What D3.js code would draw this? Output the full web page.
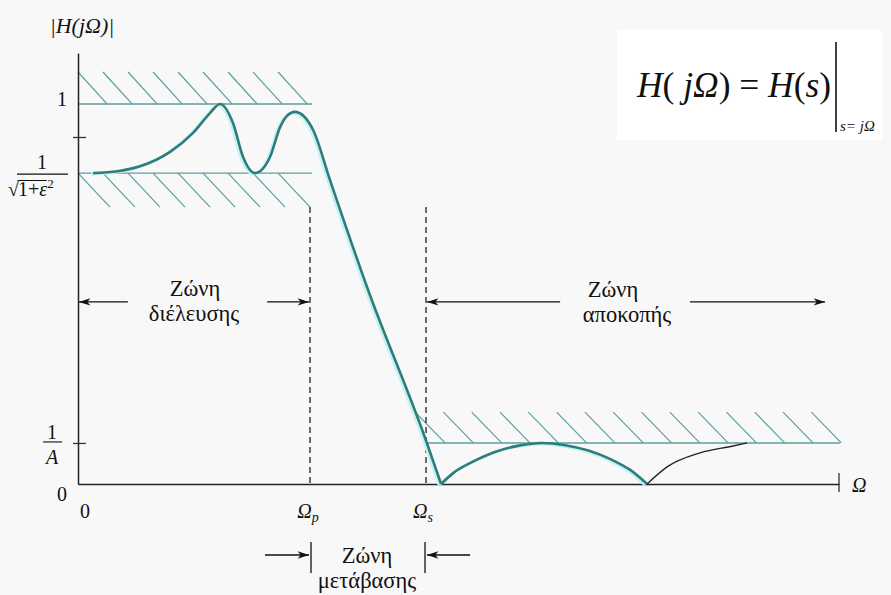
<!DOCTYPE html>
<html>
<head>
<meta charset="utf-8">
<title>Lowpass specs</title>
<script src="https://cdn.jsdelivr.net/npm/d3@7"></script>
<style>
body { margin:0; background:#f8f8f8; }
svg text { fill:#111; }
.it { font-style: italic; }
</style>
</head>
<body>
<div id="chart"></div>
<script>
// frequency axis, normalised so that Omega_p = 1
var omegaP = 1.0, omegaS = 1.5, omegaMax = 3.28;
// magnitude levels: 1, 1/sqrt(1+eps^2), 1/A and the unlabelled tick
var levelOne = 1.0, levelPass = 0.818, levelStop = 0.108, extraTick = 0.913;

// response: passband ripple + transition down to the first zero
var curveOmega = [0.065, 0.17, 0.267, 0.397, 0.496, 0.569, 0.612, 0.668, 0.711, 0.763, 0.828, 0.871, 0.9, 0.935, 1.013, 1.086, 1.25, 1.496, 1.565];
var curveMag   = [0.818, 0.823, 0.836, 0.874, 0.924, 0.976, 1.0, 0.95, 0.861, 0.818, 0.861, 0.939, 0.968, 0.979, 0.932, 0.80, 0.511, 0.121, 0.0];
// first stopband lobe (teal)
var lobeOmega = [1.565, 1.62, 1.70, 1.80, 1.90, 2.00, 2.10, 2.20, 2.30, 2.38, 2.453];
var lobeMag   = [0.0, 0.03, 0.058, 0.085, 0.101, 0.108, 0.102, 0.088, 0.064, 0.037, 0.0];
// second lobe (thin black), runs into the 1/A line
var tailOmega = [2.453, 2.539, 2.681, 2.823, 2.884];
var tailMag   = [0.0, 0.045, 0.082, 0.100, 0.108];

var zoneLabels = [["Ζώνη", "διέλευσης"], ["Ζώνη", "αποκοπής"], ["Ζώνη", "μετάβασης"]];

var W = 891, H = 595;
var FONT = "'Liberation Serif', 'DejaVu Serif', serif";
var x = d3.scaleLinear().domain([0, omegaMax]).range([78, 839]);
var y = d3.scaleLinear().domain([0, 1.134]).range([484, 53]);

var teal = "#2f7c7c", hatchCol = "#5c9f9f";

var svg = d3.select("#chart").append("svg")
    .attr("width", W).attr("height", H)
    .style("font-family", FONT);

var defs = svg.append("defs");
defs.append("marker").attr("id", "arr")
    .attr("viewBox", "-14 -5 16 10").attr("markerWidth", 14).attr("markerHeight", 10)
    .attr("refX", 0).attr("refY", 0).attr("orient", "auto").attr("markerUnits", "userSpaceOnUse")
  .append("path").attr("d", "M0,0 L-13,-4.2 L-9.5,0 L-13,4.2 Z").attr("fill", "#111");

// formula box
svg.append("rect").attr("x", 617).attr("y", 30).attr("width", 265).attr("height", 110).attr("fill", "#ffffff");

// hatched band edges
function band(o0, o1, lev) {
  svg.append("line").attr("x1", x(o0)).attr("x2", x(o1)).attr("y1", y(lev)).attr("y2", y(lev))
    .attr("stroke", hatchCol).attr("stroke-width", 1.4);
}
function hatch(start, step, n, top, bottom, dx) {
  for (var k = 0; k < n; k++) {
    var o = start + k * step;
    svg.append("line").attr("x1", x(o)).attr("y1", y(top)).attr("x2", x(o + dx)).attr("y2", y(bottom))
      .attr("stroke", hatchCol).attr("stroke-width", 1.2);
  }
}
band(0, 1.009, levelOne);
band(0, 1.009, levelPass);
band(1.496, 3.284, levelStop);
hatch(0, 0.1078, 9, 1.084, levelOne, 0.125);
hatch(0, 0.1078, 9, levelPass, 0.7285, 0.138);
hatch(1.453, 0.122, 15, 0.189, levelStop, 0.129);

// dashed markers at Omega_p and Omega_s
[omegaP, omegaS].forEach(function(o) {
  svg.append("line").attr("x1", x(o)).attr("x2", x(o)).attr("y1", y(0.729)).attr("y2", y(0))
    .attr("stroke", "#222").attr("stroke-width", 1.3).attr("stroke-dasharray", "6,4");
});

// axes
var yAxis = svg.append("g").attr("transform", "translate(" + x(0) + ",0)")
  .call(d3.axisLeft(y).tickValues([extraTick, levelStop]).tickSize(6).tickSizeOuter(0).tickFormat(""));
yAxis.selectAll(".tick line").attr("x1", -5).attr("x2", 8).attr("stroke", "#333").attr("stroke-width", 1.3);
yAxis.select(".domain").attr("stroke", "#222").attr("stroke-width", 1.5);

var xAxis = svg.append("g").attr("transform", "translate(0," + y(0) + ")")
  .call(d3.axisBottom(x).tickValues([]).tickSizeOuter(0));
xAxis.select(".domain").attr("stroke", "#222").attr("stroke-width", 1.5);
svg.append("line").attr("x1", x(omegaMax)).attr("x2", x(omegaMax)).attr("y1", y(0) - 11).attr("y2", y(0) + 8)
  .attr("stroke", "#333").attr("stroke-width", 1.3);

// response curve
var line = d3.line().x(function(d) { return x(d[0]); }).y(function(d) { return y(d[1]); }).curve(d3.curveMonotoneX);
var mainPts = curveOmega.map(function(o, i) { return [o, curveMag[i]]; });
var lobePts = lobeOmega.map(function(o, i) { return [o, lobeMag[i]]; });
var tailPts = tailOmega.map(function(o, i) { return [o, tailMag[i]]; });

// faint cyan halo, like the original print
[mainPts, lobePts].forEach(function(p) {
  svg.append("path").attr("d", line(p)).attr("fill", "none")
    .attr("stroke", "#c8f2f2").attr("stroke-width", 3).attr("transform", "translate(-2,1)");
});
svg.append("path").attr("d", line(mainPts)).attr("fill", "none").attr("stroke", teal).attr("stroke-width", 2.6);
svg.append("path").attr("d", line(lobePts)).attr("fill", "none").attr("stroke", teal).attr("stroke-width", 2.6);
svg.append("path").attr("d", line(tailPts)).attr("fill", "none").attr("stroke", "#222").attr("stroke-width", 1.3);

// ---- labels
function txt(xx, yy, s, size, anchor, cls) {
  return svg.append("text").attr("x", xx).attr("y", yy).attr("font-size", size)
    .attr("text-anchor", anchor || "middle").attr("class", cls || null).text(s);
}
txt(82, 33, "|H(jΩ)|", 22, "middle", "it");
txt(62, y(levelOne) + 2, "1", 20);
// 1/sqrt(1+eps^2)
txt(42, y(levelPass) - 4, "1", 20);
svg.append("line").attr("x1", 17).attr("x2", 68).attr("y1", y(levelPass) + 1).attr("y2", y(levelPass) + 1).attr("stroke", "#111").attr("stroke-width", 1.1);
var rad = txt(8, 196, "√", 20, "start");
var rb = rad.node().getBBox();
var radicand = svg.append("text").attr("x", rb.x + rb.width - 1).attr("y", 196).attr("font-size", 20);
radicand.append("tspan").text("1+");
radicand.append("tspan").attr("class", "it").text("ε");
radicand.append("tspan").attr("font-size", 13).attr("dy", -8).text("2");
var qb = radicand.node().getBBox();
svg.append("line").attr("x1", rb.x + rb.width - 1.5).attr("x2", qb.x + qb.width - 7)
  .attr("y1", rb.y + 2.5).attr("y2", rb.y + 2.5).attr("stroke", "#111").attr("stroke-width", 1);
// 1/A
txt(52, y(levelStop) - 4, "1", 20);
svg.append("line").attr("x1", 43).attr("x2", 62).attr("y1", y(levelStop) - 1).attr("y2", y(levelStop) - 1).attr("stroke", "#111").attr("stroke-width", 1.1);
txt(52, y(levelStop) + 21, "A", 20, "middle", "it");
// zeros
txt(62, 501, "0", 20);
txt(85, 518, "0", 20);
// Omega_p, Omega_s, Omega
var tp = svg.append("text").attr("x", x(omegaP) - 2).attr("y", 518).attr("font-size", 20).attr("text-anchor", "middle").attr("class", "it");
tp.append("tspan").text("Ω"); tp.append("tspan").attr("font-size", 14).attr("dy", 4).text("p");
var ts = svg.append("text").attr("x", x(omegaS) - 3).attr("y", 518).attr("font-size", 20).attr("text-anchor", "middle").attr("class", "it");
ts.append("tspan").text("Ω"); ts.append("tspan").attr("font-size", 14).attr("dy", 4).text("s");
txt(852, 492, "Ω", 20, "start", "it");

// zone labels and arrows
var arrowY = y(0.479);
function arrow(x1, y1, x2, y2) {
  svg.append("line").attr("x1", x1).attr("y1", y1).attr("x2", x2).attr("y2", y2)
    .attr("stroke", "#111").attr("stroke-width", 1.3).attr("marker-end", "url(#arr)");
}
var zs = 22.5;
txt(195, 296, zoneLabels[0][0], zs);
txt(194, 321, zoneLabels[0][1], zs);
arrow(x(0.215), arrowY, x(0) + 1, arrowY);
arrow(x(0.815), arrowY, x(omegaP) - 1, arrowY);

txt(613, 297, zoneLabels[1][0], zs);
txt(627, 322, zoneLabels[1][1], zs);
arrow(x(2.078), arrowY, x(omegaS) + 1, arrowY);
arrow(x(2.638), arrowY, x(3.22), arrowY);

txt(367, 563, zoneLabels[2][0], zs);
txt(367, 588, zoneLabels[2][1], zs);
arrow(x(0.806), 555, x(omegaP) - 1, 555);
arrow(x(1.69), 555, x(omegaS) + 1, 555);
[omegaP, omegaS].forEach(function(o) {
  svg.append("line").attr("x1", x(o) + (o === omegaP ? 1 : -1)).attr("x2", x(o) + (o === omegaP ? 1 : -1))
    .attr("y1", 542).attr("y2", 573).attr("stroke", "#111").attr("stroke-width", 1.3);
});

// formula, scaled to fit between x=637 and the evaluation bar
var f = svg.append("text").attr("x", 637).attr("y", 97).attr("font-size", 38);
f.append("tspan").attr("class", "it").text("H");
f.append("tspan").text("( ");
f.append("tspan").attr("class", "it").text("jΩ");
f.append("tspan").text(") = ");
f.append("tspan").attr("class", "it").text("H");
f.append("tspan").text("(");
f.append("tspan").attr("class", "it").text("s");
f.append("tspan").text(")");
var fw = f.node().getBBox().width;
f.attr("font-size", 38 * 195 / fw);
svg.append("line").attr("x1", 836).attr("x2", 836).attr("y1", 42).attr("y2", 132).attr("stroke", "#111").attr("stroke-width", 1.6);
txt(840, 131, "s= jΩ", 15, "start", "it");
</script>
</body>
</html>
